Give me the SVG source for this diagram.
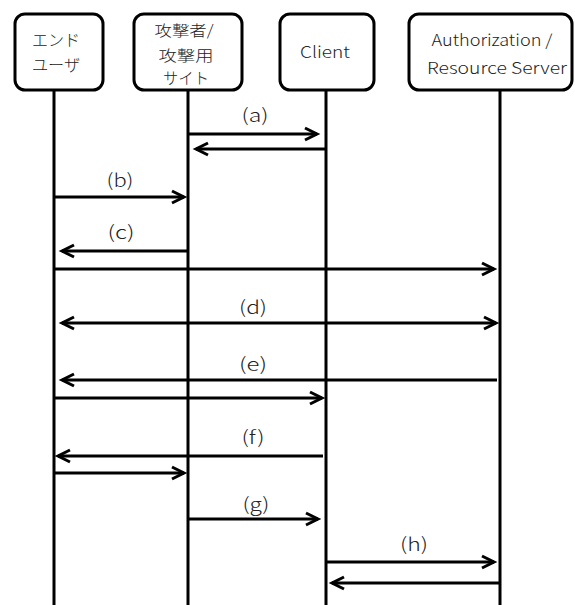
<svg xmlns="http://www.w3.org/2000/svg" width="575" height="605" viewBox="0 0 575 605">
<style>
.box{fill:#fff;stroke:#000;stroke-width:3}
.life{stroke:#000;stroke-width:3}
.msg{stroke:#000;stroke-width:3;fill:none}
.ja{font-family:"Noto Sans CJK JP","Noto Sans",sans-serif;font-size:16px;font-weight:300;fill:#222;text-anchor:middle}
.ja2{font-family:"Noto Sans CJK JP","Noto Sans",sans-serif;font-size:15px;font-weight:300;fill:#222;text-anchor:middle}
.en{font-family:"Noto Sans CJK JP","Noto Sans",sans-serif;font-size:16px;font-weight:300;fill:#222;text-anchor:middle}
.lbl{font-family:"Noto Sans CJK JP","Noto Sans",sans-serif;font-size:18px;font-weight:300;fill:#222;text-anchor:middle}
</style>
<defs>
<marker id="ah" markerUnits="userSpaceOnUse" markerWidth="16" markerHeight="16" viewBox="0 0 16 16" refX="13" refY="8" orient="auto-start-reverse" overflow="visible">
<path d="M1,2 L13,8 L1,14" fill="none" stroke="#000" stroke-width="3"/>
</marker>
</defs>
<rect width="575" height="605" fill="#fff"/>
<g id="enduser">
<line class="life" x1="54" y1="90" x2="54" y2="605"/>
<rect class="box" x="15" y="14" width="88" height="76" rx="10"/>
<text class="ja" x="56" y="46" textLength="48" lengthAdjust="spacingAndGlyphs">エンド</text>
<text class="ja" x="56" y="71" textLength="48" lengthAdjust="spacingAndGlyphs">ユーザ</text>
</g>
<g id="attacker">
<line class="life" x1="188" y1="90" x2="188" y2="605"/>
<rect class="box" x="134" y="14" width="108" height="76" rx="10"/>
<text class="ja2" x="184" y="36" textLength="59" lengthAdjust="spacingAndGlyphs">攻撃者/</text>
<text class="ja2" x="186" y="61" textLength="55" lengthAdjust="spacingAndGlyphs">攻撃用</text>
<text class="ja" x="186" y="84" textLength="46" lengthAdjust="spacingAndGlyphs">サイト</text>
</g>
<g id="client">
<line class="life" x1="326" y1="90" x2="326" y2="605"/>
<rect class="box" x="280" y="14" width="94" height="76" rx="10"/>
<text class="en" x="325" y="58" textLength="50" lengthAdjust="spacingAndGlyphs">Client</text>
</g>
<g id="server">
<line class="life" x1="500" y1="90" x2="500" y2="605"/>
<rect class="box" x="409" y="14" width="163" height="76" rx="10"/>
<text class="en" x="492" y="46" textLength="121" lengthAdjust="spacingAndGlyphs">Authorization /</text>
<text class="en" x="497" y="74" textLength="140" lengthAdjust="spacingAndGlyphs">Resource Server</text>
</g>
<g id="connectors">
<line class="msg" x1="188" y1="134" x2="317" y2="134" marker-end="url(#ah)"/>
<line class="msg" x1="326" y1="149" x2="196" y2="149" marker-end="url(#ah)"/>
<line class="msg" x1="54" y1="197" x2="184" y2="197" marker-end="url(#ah)"/>
<line class="msg" x1="188" y1="251" x2="62" y2="251" marker-end="url(#ah)"/>
<line class="msg" x1="54" y1="269" x2="494" y2="269" marker-end="url(#ah)"/>
<line class="msg" x1="62" y1="323" x2="496" y2="323" marker-start="url(#ah)" marker-end="url(#ah)"/>
<line class="msg" x1="497" y1="380" x2="62" y2="380" marker-end="url(#ah)"/>
<line class="msg" x1="54" y1="398" x2="322" y2="398" marker-end="url(#ah)"/>
<line class="msg" x1="323" y1="456" x2="58" y2="456" marker-end="url(#ah)"/>
<line class="msg" x1="54" y1="473" x2="184" y2="473" marker-end="url(#ah)"/>
<line class="msg" x1="188" y1="519" x2="318" y2="519" marker-end="url(#ah)"/>
<line class="msg" x1="326" y1="562" x2="494" y2="562" marker-end="url(#ah)"/>
<line class="msg" x1="500" y1="583" x2="332" y2="583" marker-end="url(#ah)"/>
<text class="lbl" x="255" y="122" textLength="27" lengthAdjust="spacingAndGlyphs">(a)</text>
<text class="lbl" x="120" y="187" textLength="27" lengthAdjust="spacingAndGlyphs">(b)</text>
<text class="lbl" x="121" y="239" textLength="27" lengthAdjust="spacingAndGlyphs">(c)</text>
<text class="lbl" x="253" y="314" textLength="28" lengthAdjust="spacingAndGlyphs">(d)</text>
<text class="lbl" x="253" y="371" textLength="28" lengthAdjust="spacingAndGlyphs">(e)</text>
<text class="lbl" x="253" y="444" textLength="23" lengthAdjust="spacingAndGlyphs">(f)</text>
<text class="lbl" x="256" y="511" textLength="27" lengthAdjust="spacingAndGlyphs">(g)</text>
<text class="lbl" x="414" y="551" textLength="28" lengthAdjust="spacingAndGlyphs">(h)</text>
</g>
</svg>
